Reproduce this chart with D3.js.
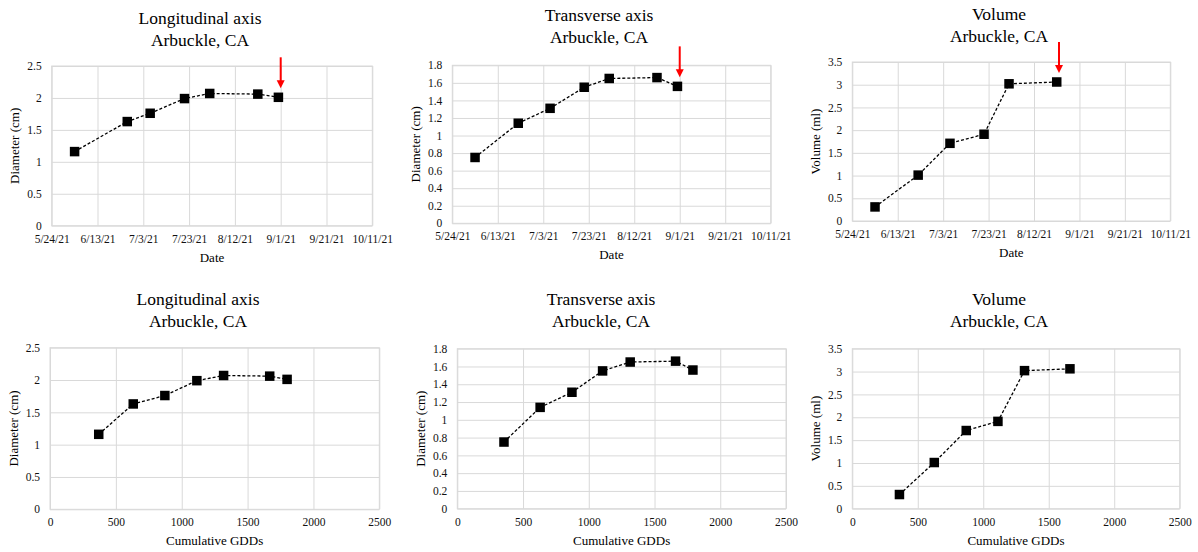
<!DOCTYPE html>
<html>
<head>
<meta charset="utf-8">
<script src="https://cdn.jsdelivr.net/npm/d3@7"></script>
<style>
  html, body { margin: 0; padding: 0; background: #fff; }
  svg { display: block; }
  svg text { font-family: "Liberation Serif", "Times New Roman", serif !important; }
</style>
</head>
<body>
<svg id="chart" width="1198" height="552"></svg>
<script>
// ---------------- DATA ----------------
const titleSite = "Arbuckle, CA";
const panelTitles = ["Longitudinal axis", "Transverse axis", "Volume"];
const yAxisTitles = ["Diameter (cm)", "Diameter (cm)", "Volume (ml)"];

// sample dates (read from top row)
const datesLong  = ["6/3/21", "6/26/21", "7/6/21", "7/21/21", "8/1/21", "8/22/21", "8/31/21"];
const datesTrans = ["6/3/21", "6/22/21", "7/6/21", "7/21/21", "8/1/21", "8/22/21", "8/31/21"];
const datesVol   = ["6/3/21", "6/22/21", "7/6/21", "7/21/21", "8/1/21", "8/22/21"];

// cumulative GDDs (read from bottom row)
const gddLong  = [370, 632, 872, 1115, 1318, 1668, 1800];
const gddTrans = [355, 630, 872, 1105, 1315, 1660, 1792];
const gddVol   = [360, 626, 870, 1112, 1315, 1662];

// measured values
const longitudinal = [1.16, 1.63, 1.76, 1.99, 2.07, 2.06, 2.01];
const transverse   = [0.75, 1.14, 1.31, 1.55, 1.65, 1.66, 1.56];
const volume       = [0.31, 1.01, 1.71, 1.91, 3.02, 3.06];

// axis ticks
const dateTicks = ["5/24/21", "6/13/21", "7/3/21", "7/23/21", "8/12/21", "9/1/21", "9/21/21", "10/11/21"];
const gddTicks  = [0, 500, 1000, 1500, 2000, 2500];
const yTicksLong  = [0, 0.5, 1, 1.5, 2, 2.5];
const yTicksTrans = [0, 0.2, 0.4, 0.6, 0.8, 1, 1.2, 1.4, 1.6, 1.8];
const yTicksVol   = [0, 0.5, 1, 1.5, 2, 2.5, 3, 3.5];

// red arrow annotation dates (top row)
const arrowDates = ["9/1/21", "9/1/21", "8/23/21"];

// ---------------- LAYOUT ----------------
const FONT = "'Liberation Serif', 'Times New Roman', serif";
const parse = d3.timeParse("%m/%d/%y");
const svg = d3.select("#chart");

const panels = [
  { box: [51.7, 372.3, 66, 225.7], cx: 200, ty: 24, kind: "date", x: datesLong,  y: longitudinal, yt: yTicksLong,  title: 0, arrow: 0 },
  { box: [452.3, 770.7, 65.3, 223.3], cx: 599, ty: 21, kind: "date", x: datesTrans, y: transverse, yt: yTicksTrans, title: 1, arrow: 1 },
  { box: [852.3, 1170.3, 62, 221], cx: 999, ty: 20, kind: "date", x: datesVol,   y: volume,       yt: yTicksVol,   title: 2, arrow: 2 },
  { box: [50, 379.3, 347.7, 509.3], cx: 198, ty: 305, kind: "gdd", x: gddLong,  y: longitudinal, yt: yTicksLong,  title: 0 },
  { box: [457.3, 786, 348.7, 508.7], cx: 601, ty: 305, kind: "gdd", x: gddTrans, y: transverse,   yt: yTicksTrans, title: 1 },
  { box: [852.3, 1179.7, 348.7, 508.7], cx: 999, ty: 305, kind: "gdd", x: gddVol, y: volume,       yt: yTicksVol,   title: 2 }
];

const gridColor = "#d9d9d9";
const fmtY = d => String(+d.toFixed(1));

panels.forEach(p => {
  const [L, R, T, B] = p.box;
  const g = svg.append("g").attr("font-family", FONT).style("font-family", FONT);

  let x, xTickVals, xFmt, xTitle;
  if (p.kind === "date") {
    const tv = dateTicks.map(parse);
    x = d3.scaleTime().domain([tv[0], tv[tv.length - 1]]).range([L, R]);
    xTickVals = tv;
    xFmt = (d, i) => dateTicks[i];
    xTitle = "Date";
  } else {
    x = d3.scaleLinear().domain([gddTicks[0], gddTicks[gddTicks.length - 1]]).range([L, R]);
    xTickVals = gddTicks;
    xFmt = d => String(d);
    xTitle = "Cumulative GDDs";
  }
  const y = d3.scaleLinear().domain([p.yt[0], p.yt[p.yt.length - 1]]).range([B, T]);

  const yAx = g.append("g").attr("transform", `translate(${L},0)`)
    .call(d3.axisLeft(y).tickValues(p.yt).tickSize(-(R - L)).tickPadding(10).tickFormat(fmtY));
  yAx.attr("font-family", FONT).style("font-family", FONT);
  yAx.select(".domain").remove();
  yAx.selectAll(".tick line").attr("stroke", gridColor).attr("stroke-width", 1);
  yAx.selectAll(".tick text").attr("font-size", "11.5px").attr("fill", "#111")
     .style("font-family", FONT);

  const xAx = g.append("g").attr("transform", `translate(0,${B})`)
    .call(d3.axisBottom(x).tickValues(xTickVals).tickSize(-(B - T)).tickPadding(9).tickFormat(xFmt));
  xAx.attr("font-family", FONT).style("font-family", FONT);
  xAx.select(".domain").remove();
  xAx.selectAll(".tick line").attr("stroke", gridColor).attr("stroke-width", 1);
  xAx.selectAll(".tick text").attr("font-size", "11.5px").attr("fill", "#111")
     .style("font-family", FONT);

  g.append("rect").attr("x", L).attr("y", T).attr("width", R - L).attr("height", B - T)
    .attr("fill", "none").attr("stroke", gridColor).attr("stroke-width", 1);

  const pts = p.x.map((xv, i) => ({
    xv: p.kind === "date" ? parse(xv) : xv,
    yv: p.y[i]
  }));
  const line = d3.line().x(d => x(d.xv)).y(d => y(d.yv));
  g.append("path").datum(pts).attr("d", line)
    .attr("fill", "none").attr("stroke", "#000").attr("stroke-width", 1.3)
    .attr("stroke-dasharray", "3,2");
  const ms = 9.5;
  g.selectAll("rect.mk").data(pts).enter().append("rect").attr("class", "mk")
    .attr("x", d => x(d.xv) - ms / 2).attr("y", d => y(d.yv) - ms / 2)
    .attr("width", ms).attr("height", ms).attr("fill", "#000");

  const t = g.append("text").attr("x", p.cx).attr("y", p.ty).attr("text-anchor", "middle")
    .attr("font-size", "17.5px").attr("fill", "#000").style("font-family", FONT);
  t.append("tspan").attr("x", p.cx).attr("dy", 0).text(panelTitles[p.title]);
  t.append("tspan").attr("x", p.cx).attr("dy", 22).text(titleSite);

  g.append("text").attr("x", (L + R) / 2).attr("y", B + 36).attr("text-anchor", "middle")
    .attr("font-size", "13px").attr("fill", "#000").style("font-family", FONT).text(xTitle);
  g.append("text").attr("transform", `translate(${L - 37},${(T + B) / 2}) rotate(-90)`)
    .attr("text-anchor", "middle").attr("dominant-baseline", "central")
    .attr("font-size", "13px").attr("fill", "#000").style("font-family", FONT).text(yAxisTitles[p.title]);

  if (p.arrow !== undefined) {
    const ax = x(parse(arrowDates[p.arrow]));
    const lastY = y(p.y[p.y.length - 1]);
    const tip = lastY - 9;
    const top = tip - 31;
    g.append("line").attr("x1", ax).attr("x2", ax).attr("y1", top).attr("y2", tip - 6)
      .attr("stroke", "#ff0000").attr("stroke-width", 2);
    g.append("path")
      .attr("d", `M${ax - 4},${tip - 8} L${ax + 4},${tip - 8} L${ax},${tip} Z`)
      .attr("fill", "#ff0000");
  }
});
</script>
</body>
</html>
